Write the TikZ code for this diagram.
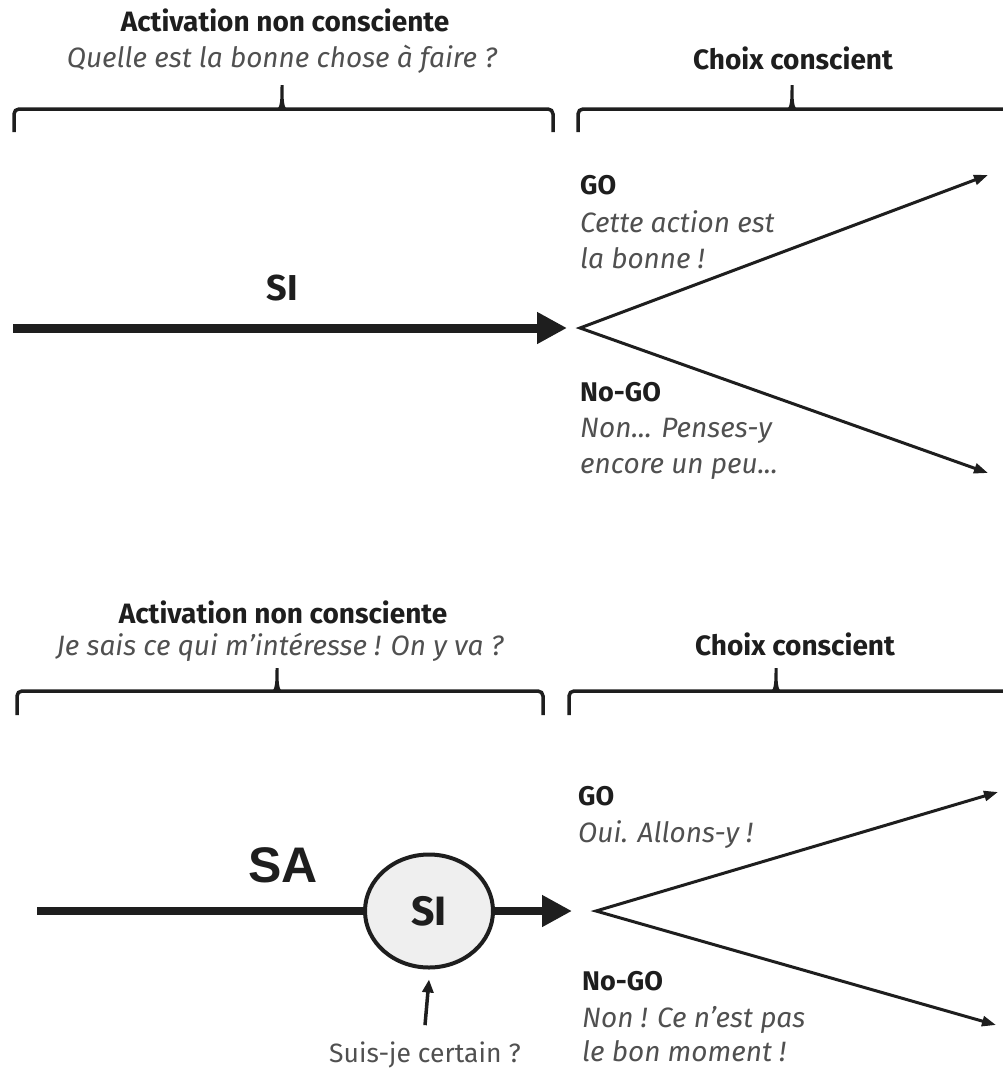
\documentclass[tikz,border=0pt]{standalone}
\usepackage{fontspec}
\setmainfont{Fira Sans}
\newfontfamily\helv{Liberation Sans}
\usetikzlibrary{arrows.meta,shapes.geometric,calc}
\definecolor{ink}{HTML}{1E1E1E}
\definecolor{quote}{HTML}{505050}
\definecolor{bubble}{HTML}{EFEFEF}
\begin{document}
\begin{tikzpicture}[x=1pt,y=-1pt,
  heading/.style={font=\fontsize{28}{32}\selectfont\bfseries, text=ink, anchor=base, inner sep=0},
  remark/.style={font=\fontsize{28}{32}\selectfont\itshape, text=quote, anchor=base, inner sep=0},
  choice/.style={heading, font=\fontsize{27}{31}\selectfont\bfseries, anchor=base west},
  reply/.style={remark, anchor=base west},
  bracket/.style={line width=3.5pt, draw=ink, rounded corners=5pt},
  spike/.style={fill=ink},
  branch/.style={line width=3pt, draw=ink, {Triangle[length=14pt,width=10pt]}-{Triangle[length=14pt,width=10pt]}},
  mainflow/.style={line width=9pt, draw=ink, -{Triangle[length=30pt,width=30pt]}},
  feed/.style={line width=8pt, draw=ink},
  pointer/.style={line width=3.5pt, draw=ink, -{Triangle[length=13pt,width=11pt]}},
  big/.style={font=\fontsize{#1}{#1}\selectfont\bfseries, text=ink},
]
\useasboundingbox (0,0) rectangle (1002,1068);

% ---------- upper scheme: inhibition alone ----------
\node[heading] (h1) at (285,31) {Activation non consciente};
\node[remark]  (q1) at (282,67) {Quelle est la bonne chose à faire ?};
\node[heading] (c1) at (793,69) {Choix conscient};

\coordinate (b1l) at (14,132);
\coordinate (b1r) at (553,132);
\draw[bracket] (b1l) -- (14,109) -- (553,109) -- (b1r);
\fill[spike] (276,110) .. controls (280.5,108) and (280.5,100) .. (280.5,85) -- (283.5,85) .. controls (283.5,100) and (283.5,108) .. (288,110) -- cycle;

\coordinate (b2l) at (578,132);
\draw[bracket] (b2l) -- (578,109) -- (1010,109);
\fill[spike] (786,110) .. controls (790.5,108) and (790.5,100) .. (790.5,85) -- (793.5,85) .. controls (793.5,100) and (793.5,108) .. (798,110) -- cycle;

\node[big=36, anchor=base, inner sep=0] (si1) at (282,300) {SI};
\coordinate (s1) at (13,328);
\coordinate (t1) at (567,328);
\draw[mainflow] (s1) -- (t1);

\coordinate (f1) at (580,328);
\coordinate (go1) at (988,175);
\coordinate (ng1) at (988,473);
\draw[branch] (go1) -- (f1) -- (ng1);

\node[choice] (go1t) at (580,194) {GO};
\node[reply]  (go1a) at (580,232) {Cette action est};
\node[reply]  (go1b) at (580,268) {la bonne !};
\node[choice] (ng1t) at (580,401) {No-GO};
\node[reply]  (ng1a) at (580,437) {Non... Penses-y};
\node[reply]  (ng1b) at (580,473) {encore un peu...};

% ---------- lower scheme: activation filtered by inhibition ----------
\node[heading] (h2) at (283,623) {Activation non consciente};
\node[remark]  (q2) at (280,655) {Je sais ce qui m’intéresse ! On y va ?};
\node[heading] (c2) at (795,655) {Choix conscient};

\coordinate (b3l) at (17,715);
\coordinate (b3r) at (543,715);
\draw[bracket] (b3l) -- (17,691) -- (543,691) -- (b3r);
\fill[spike] (271,692) .. controls (275.5,690) and (275.5,682) .. (275.5,668) -- (278.5,668) .. controls (278.5,682) and (278.5,690) .. (283,692) -- cycle;

\coordinate (b4l) at (569,715);
\draw[bracket] (b4l) -- (569,691) -- (1010,691);
\fill[spike] (770,692) .. controls (774.5,690) and (774.5,682) .. (774.5,668) -- (777.5,668) .. controls (777.5,682) and (777.5,690) .. (782,692) -- cycle;

\node[font=\helv\fontsize{50}{50}\selectfont\bfseries, text=ink, anchor=base, inner sep=0] (sa) at (283,882) {SA};

\node[ellipse, draw=ink, line width=4pt, fill=bubble, minimum width=128pt, minimum height=113pt, inner sep=0, big=41] (si2) at (429,911) {SI};
\coordinate (sa0) at (37,911);
\draw[feed] (sa0) -- (si2.west);
\coordinate (t2) at (572,911);
\draw[mainflow, line width=8pt] (si2.east) -- (t2);

\coordinate (f2) at (596,911);
\coordinate (go2) at (998,792);
\coordinate (ng2) at (996,1025);
\draw[branch] (go2) -- (f2) -- (ng2);

\node[choice] (go2t) at (578,805) {GO};
\node[reply]  (go2a) at (578,842) {Oui. Allons-y !};
\node[choice] (ng2t) at (582,990) {No-GO};
\node[reply]  (ng2a) at (582,1027) {Non ! Ce n’est pas};
\node[reply]  (ng2b) at (582,1061) {le bon moment !};

\node[font=\fontsize{26.5}{30}\selectfont, text=quote, anchor=base, inner sep=0] (ask) at (425,1062) {Suis-je certain ?};
\draw[pointer] ($(ask.north)+(0,-16)$) -- ($(si2.south)+(0,10)$);
\end{tikzpicture}
\end{document}
